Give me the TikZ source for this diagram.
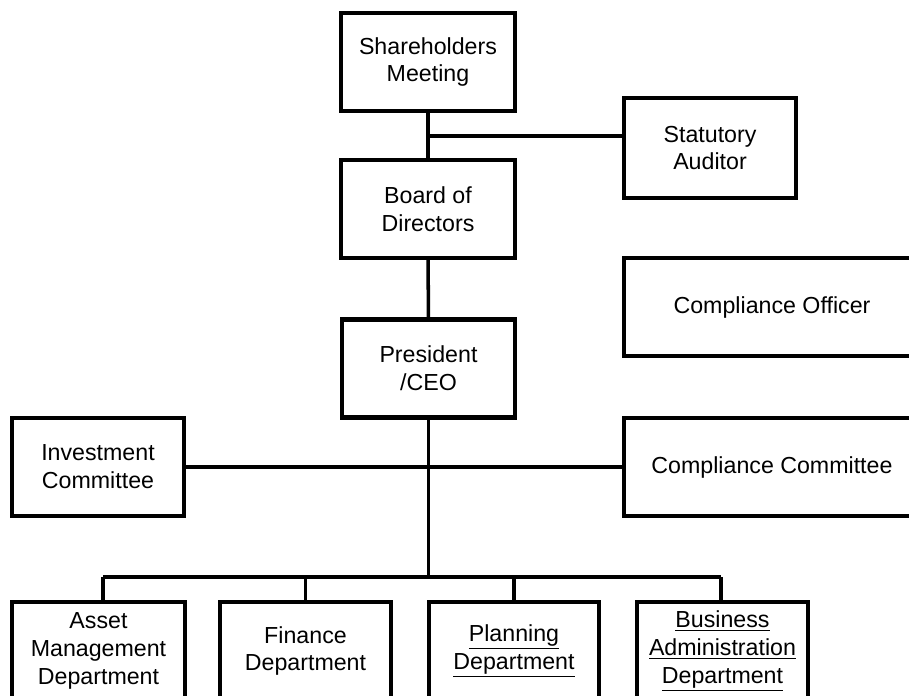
\documentclass[tikz,border=0pt]{standalone}
\usepackage{fontspec}
\setmainfont{Liberation Sans}
\usepackage{tikz}

\begin{document}
\begin{tikzpicture}[
  orgBox/.style={draw, line width=2.3pt, inner sep=0pt, align=center,
    minimum height=1.96cm, font=\fontsize{13.2pt}{15.8pt}\selectfont},
  orgLine/.style={line width=2pt}
]

% Page frame
\useasboundingbox (0,0) rectangle (18.18,-13.9);

% Upper boxes
\node[orgBox, minimum width=3.48cm] (shareMeet) at (8.56,-1.24) {Shareholders\\Meeting};
\node[orgBox, minimum width=3.48cm] (boardDir) at (8.56,-4.18) {Board of\\Directors};
\node[orgBox, minimum width=3.46cm] (presCEO) at (8.57,-7.37) {President\\/CEO};

% Side boxes
\node[orgBox, minimum width=3.44cm, minimum height=2cm] (statAud) at (14.2,-2.96) {Statutory\\Auditor};
\node[orgBox, minimum width=5.92cm] (compOff) at (15.44,-6.14) {Compliance Officer};
\node[orgBox, minimum width=3.44cm] (invComm) at (1.96,-9.34) {Investment\\Committee};
\node[orgBox, minimum width=5.92cm] (compComm) at (15.44,-9.34) {Compliance Committee};

% Departments
\node[orgBox, minimum width=3.46cm] (assetDep) at (1.97,-13.02) {Asset\\Management\\Department};
\node[orgBox, minimum width=3.42cm] (finDep) at (6.11,-13.02) {Finance\\Department};
\node[orgBox, minimum width=3.40cm] (planDep) at (10.28,-13.02) {\underline{Planning}\\\underline{Department}};
\node[orgBox, minimum width=3.42cm] (busDep) at (14.45,-13.02) {\underline{Business}\\\underline{Administration}\\\underline{Department}};

% Junction points
\coordinate (audJoin) at (8.56,-2.72);
\coordinate (busLeft) at (2.06,-11.54);
\coordinate (busMid) at (8.57,-11.54);
\coordinate (busRight) at (14.42,-11.54);

% Main line
\draw[orgLine] (shareMeet) -- (boardDir);
\draw[orgLine] (boardDir) -- (presCEO);
\draw[orgLine] (audJoin) -- (audJoin -| statAud.west);
\draw[orgLine] (invComm) -- (compComm);
\draw[orgLine] (presCEO) -- (busMid);

% Department bus
\draw[orgLine] (busLeft) -- (busRight);
\draw[orgLine] (busLeft) -- (busLeft |- assetDep.north);
\draw[orgLine] (busLeft -| finDep) -- (finDep);
\draw[orgLine] (busLeft -| planDep) -- (planDep);
\draw[orgLine] (busRight) -- (busRight |- busDep.north);
\end{tikzpicture}
\end{document}
